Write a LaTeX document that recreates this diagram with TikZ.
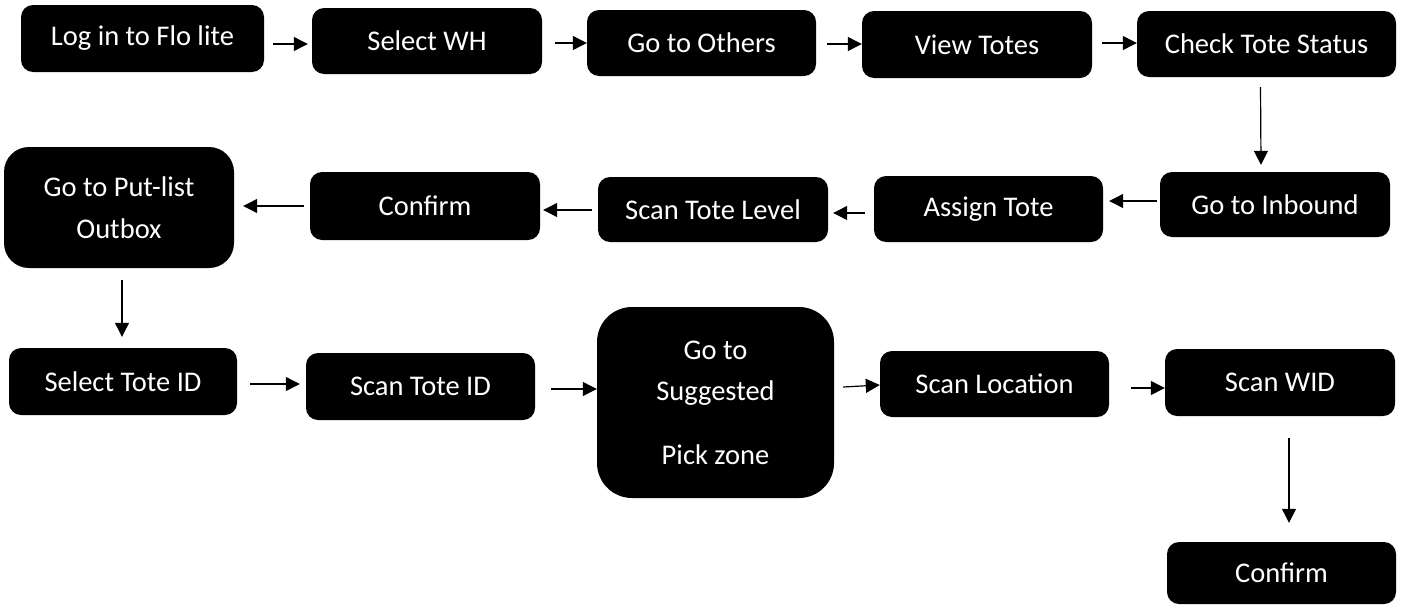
\documentclass[tikz,border=0pt]{standalone}
\usepackage{fontspec}
\setmainfont{Carlito}
\usetikzlibrary{arrows.meta}
\begin{document}
\begin{tikzpicture}[x=1pt,y=-1pt,
  box/.style={fill=black, text=white, rounded corners=12pt, inner sep=0pt,
    align=center, font=\fontsize{28.5}{41}\selectfont},
  arr/.style={line width=1.2pt, -{Triangle[length=14pt,width=14pt]}}]
\fill[white] (0,0) rectangle (1404,605);
\useasboundingbox (0,0) rectangle (1404,605);
% row 1
\node[box, minimum width=243pt, minimum height=67pt] (login) at (142.5,38.5) {Log in to Flo lite};
\node[box, minimum width=230pt, minimum height=66pt] (selwh) at (427,41) {Select WH};
\node[box, minimum width=229pt, minimum height=66pt] (others) at (701.5,43) {Go to Others};
\node[box, minimum width=230pt, minimum height=67pt] (view) at (977,44.5) {View Totes};
\node[box, minimum width=259pt, minimum height=66pt] (check) at (1266.5,44) {Check Tote Status};
% row 2
\node[box, minimum width=230pt, minimum height=121pt, rounded corners=25pt,
  font=\fontsize{28.5}{42}\selectfont] (putlist) at (119,207.5) {Go to Put-list\\Outbox};
\node[box, minimum width=230pt, minimum height=68pt] (confirma) at (425,206) {Confirm};
\node[box, minimum width=230pt, minimum height=65pt] (stl) at (713,209.5) {Scan Tote Level};
\node[box, minimum width=229pt, minimum height=66pt] (assign) at (988.5,209) {Assign Tote};
\node[box, minimum width=230pt, minimum height=65pt] (inbound) at (1275,204.5) {Go to Inbound};
% row 3
\node[box, minimum width=228pt, minimum height=67pt] (seltote) at (123,381.5) {Select Tote ID};
\node[box, minimum width=229pt, minimum height=67pt] (scantote) at (420.5,386.5) {Scan Tote ID};
\node[box, minimum width=237pt, minimum height=191pt, rounded corners=35pt,
  font=\fontsize{28.5}{41}\selectfont] (goto) at (715.5,402.5) {Go to\\Suggested\\[23pt]Pick zone};
\node[box, minimum width=229pt, minimum height=66pt] (scanloc) at (994.5,384) {Scan Location};
\node[box, minimum width=230pt, minimum height=67pt] (scanwid) at (1280,382.5) {Scan WID};
\node[box, minimum width=229pt, minimum height=62pt] (confirmb) at (1281.5,573) {Confirm};
% connectors
\draw[arr] ([shift={(9,5.5)}]login.east) -- ([shift={(-4,3)}]selwh.west);
\draw[arr] ([shift={(13,2)}]selwh.east) -- ([shift={(0,0)}]others.west);
\draw[arr] ([shift={(11,1)}]others.east) -- ([shift={(0,-0.5)}]view.west);
\draw[arr] ([shift={(10,-1.5)}]view.east) -- ([shift={(0,-1)}]check.west);
\draw[arr] ([shift={(-6,10)}]check.south) -- ([shift={(-14,-7)}]inbound.north);
\draw[arr] ([shift={(-3,-3.5)}]inbound.west) -- ([shift={(6,-8)}]assign.east);
\draw[arr] ([shift={(-9,4)}]assign.west) -- ([shift={(5,3.5)}]stl.east);
\draw[arr] ([shift={(-6,0.5)}]stl.west) -- ([shift={(3,4)}]confirma.east);
\draw[arr] ([shift={(-6,0)}]confirma.west) -- ([shift={(9,-1.5)}]putlist.east);
\draw[arr] ([shift={(3,12)}]putlist.south) -- ([shift={(-1,-11)}]seltote.north);
\draw[arr] ([shift={(13,2.5)}]seltote.east) -- ([shift={(-6,-2.5)}]scantote.west);
\draw[arr] ([shift={(16,2.5)}]scantote.east) -- ([shift={(0,-13.5)}]goto.west);
\draw[arr] ([shift={(9,-15.5)}]goto.east) -- ([shift={(0,1)}]scanloc.west);
\draw[arr] ([shift={(22,4)}]scanloc.east) -- ([shift={(0,5.5)}]scanwid.west);
\draw[arr] ([shift={(9,22)}]scanwid.south) -- ([shift={(7.5,-19)}]confirmb.north);
\end{tikzpicture}
\end{document}
